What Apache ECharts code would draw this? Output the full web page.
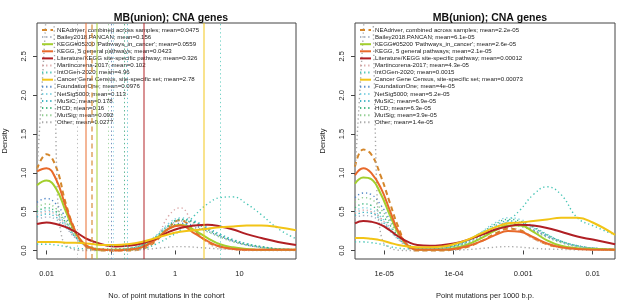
<!DOCTYPE html>
<html>
<head>
<meta charset="utf-8">
<script src="https://cdn.jsdelivr.net/npm/echarts@6/dist/echarts.min.js"></script>
<style>
  html, body { margin: 0; padding: 0; background: #fff; }
  #chart { width: 617px; height: 305px; }
</style>
</head>
<body>
<div id="chart"></div>
<script>
// x positions (raw values, drawn on log axes)
const xL = [0.0071, 0.01, 0.014, 0.02, 0.028, 0.04, 0.056, 0.08, 0.12, 0.18, 0.3, 0.5, 0.8, 1.2, 2, 3.2, 5, 8, 13, 22, 40, 76]
const xR = [3.8e-6, 5e-6, 6.5e-6, 9e-6, 1.2e-5, 1.6e-5, 2.2e-5, 3e-5, 4.5e-5, 7e-5, 1e-4, 1.5e-4, 2.5e-4, 4e-4, 6e-4, 9e-4, 1.4e-3, 2.2e-3, 3.5e-3, 6e-3, 1e-2, 2.1e-2]

// gene set names + means (legend text)
const setNames = ['NEAdriver, combined across samples', 'Bailey2018.PANCAN', "KEGG#05200 'Pathways_in_cancer'", 'KEGG, 5 general pathways',
  'Literature/KEGG site-specific pathway', 'Martincorena-2017', 'IntOGen-2020', 'Cancer Gene Census, site-specific set',
  'FoundationOne', 'NetSig5000', 'MuSiC', 'HCD', 'MutSig', 'Other']
const meanL = ['0.0475', '0.156', '0.0559', '0.0423', '0.326', '0.102', '4.96', '2.78', '0.0976', '0.113', '0.178', '0.16', '0.092', '0.0277']
const meanR = ['2.2e-05', '6.1e-05', '2.6e-05', '2.1e-05', '0.00012', '4.3e-05', '0.0015', '0.00073', '4e-05', '5.2e-05', '6.9e-05', '6.3e-05', '3.9e-05', '1.4e-05']

// densities, left panel
const neadriverL = [1.05, 1.24, 1.08, 0.60, 0.26, 0.06, 0.01, 0.0, 0.0, 0.0, 0.02, 0.12, 0.30, 0.39, 0.25, 0.11, 0.05, 0.02, 0.01, 0.01, 0.01, 0.01]
const baileyL = [0.40, 0.43, 0.40, 0.29, 0.16, 0.06, 0.02, 0.01, 0.01, 0.02, 0.06, 0.16, 0.31, 0.38, 0.35, 0.27, 0.19, 0.12, 0.07, 0.04, 0.02, 0.01]
const kegg05200L = [0.84, 0.90, 0.80, 0.50, 0.23, 0.07, 0.02, 0.01, 0.01, 0.01, 0.04, 0.15, 0.28, 0.33, 0.26, 0.16, 0.08, 0.04, 0.02, 0.01, 0.01, 0.01]
const kegg5L = [1.02, 1.06, 0.92, 0.56, 0.25, 0.07, 0.02, 0.01, 0.0, 0.01, 0.04, 0.14, 0.28, 0.32, 0.22, 0.12, 0.05, 0.02, 0.01, 0.01, 0.01, 0.01]
const literatureL = [0.34, 0.36, 0.34, 0.30, 0.24, 0.16, 0.11, 0.07, 0.05, 0.06, 0.09, 0.15, 0.24, 0.29, 0.32, 0.33, 0.31, 0.27, 0.21, 0.16, 0.11, 0.07]
const martincorenaL = [0.46, 0.50, 0.46, 0.33, 0.17, 0.06, 0.02, 0.01, 0.0, 0.0, 0.02, 0.15, 0.45, 0.55, 0.30, 0.10, 0.03, 0.01, 0.0, 0.0, 0.0, 0.0]
const intogenL = [0.08, 0.08, 0.07, 0.05, 0.03, 0.02, 0.01, 0.01, 0.01, 0.01, 0.02, 0.08, 0.17, 0.26, 0.45, 0.60, 0.68, 0.69, 0.60, 0.46, 0.28, 0.15]
const cgcL = [0.11, 0.11, 0.11, 0.10, 0.10, 0.09, 0.08, 0.07, 0.07, 0.08, 0.11, 0.16, 0.21, 0.24, 0.26, 0.28, 0.30, 0.31, 0.32, 0.32, 0.30, 0.26]
const foundationL = [0.62, 0.67, 0.60, 0.42, 0.22, 0.08, 0.03, 0.02, 0.02, 0.03, 0.06, 0.15, 0.28, 0.35, 0.32, 0.25, 0.18, 0.12, 0.07, 0.04, 0.02, 0.01]
const netsigL = [0.47, 0.52, 0.47, 0.34, 0.18, 0.07, 0.02, 0.01, 0.01, 0.02, 0.07, 0.19, 0.35, 0.42, 0.38, 0.29, 0.20, 0.13, 0.08, 0.04, 0.02, 0.01]
const musicL = [0.43, 0.47, 0.43, 0.31, 0.17, 0.06, 0.02, 0.01, 0.01, 0.02, 0.07, 0.18, 0.33, 0.40, 0.37, 0.29, 0.21, 0.14, 0.09, 0.05, 0.02, 0.01]
const hcdL = [0.50, 0.55, 0.50, 0.36, 0.19, 0.07, 0.02, 0.01, 0.01, 0.02, 0.06, 0.17, 0.32, 0.40, 0.36, 0.27, 0.19, 0.13, 0.08, 0.05, 0.02, 0.01]
const mutsigL = [0.56, 0.60, 0.54, 0.38, 0.20, 0.07, 0.03, 0.02, 0.02, 0.03, 0.07, 0.16, 0.28, 0.33, 0.30, 0.24, 0.17, 0.11, 0.07, 0.04, 0.02, 0.01]
const otherXL = [0.0071, 0.0095, 0.0115, 0.0125, 0.0135, 0.015, 0.018, 0.025, 0.04, 0.1, 0.3, 1.2, 5, 76]
const otherL = [1.0, 2.8, 4.0, 3.8, 2.2, 0.6, 0.12, 0.02, 0.0, 0.0, 0.01, 0.05, 0.02, 0.0]

// densities, right panel
const neadriverR = [1.08, 1.30, 1.24, 0.95, 0.62, 0.30, 0.05, 0.0, 0.0, 0.0, 0.01, 0.04, 0.12, 0.22, 0.28, 0.26, 0.16, 0.08, 0.04, 0.02, 0.02, 0.01]
const baileyR = [0.42, 0.45, 0.44, 0.36, 0.25, 0.14, 0.05, 0.02, 0.02, 0.03, 0.05, 0.11, 0.21, 0.30, 0.36, 0.34, 0.27, 0.18, 0.11, 0.05, 0.03, 0.01]
const kegg05200R = [0.86, 0.94, 0.92, 0.72, 0.46, 0.22, 0.06, 0.01, 0.01, 0.01, 0.03, 0.07, 0.16, 0.26, 0.32, 0.32, 0.24, 0.13, 0.06, 0.03, 0.02, 0.01]
const kegg5R = [0.97, 1.06, 1.00, 0.80, 0.52, 0.24, 0.06, 0.01, 0.01, 0.01, 0.02, 0.05, 0.12, 0.20, 0.25, 0.24, 0.17, 0.09, 0.04, 0.02, 0.01, 0.01]
const literatureR = [0.35, 0.38, 0.37, 0.33, 0.26, 0.18, 0.11, 0.07, 0.06, 0.07, 0.09, 0.13, 0.20, 0.27, 0.31, 0.33, 0.32, 0.29, 0.24, 0.18, 0.14, 0.08]
const martincorenaR = [0.48, 0.52, 0.50, 0.41, 0.28, 0.15, 0.05, 0.02, 0.01, 0.01, 0.03, 0.07, 0.17, 0.27, 0.30, 0.25, 0.15, 0.08, 0.04, 0.02, 0.01, 0.0]
const intogenR = [0.11, 0.11, 0.10, 0.08, 0.05, 0.03, 0.02, 0.02, 0.02, 0.03, 0.05, 0.09, 0.17, 0.28, 0.38, 0.52, 0.72, 0.82, 0.72, 0.42, 0.32, 0.20]
const cgcR = [0.16, 0.16, 0.15, 0.13, 0.10, 0.07, 0.05, 0.04, 0.04, 0.05, 0.08, 0.13, 0.22, 0.30, 0.35, 0.36, 0.38, 0.40, 0.42, 0.42, 0.36, 0.20]
const foundationR = [0.68, 0.74, 0.72, 0.58, 0.40, 0.22, 0.08, 0.03, 0.02, 0.03, 0.05, 0.10, 0.20, 0.30, 0.35, 0.33, 0.26, 0.18, 0.11, 0.06, 0.03, 0.01]
const netsigR = [0.50, 0.55, 0.53, 0.43, 0.30, 0.16, 0.06, 0.02, 0.02, 0.03, 0.06, 0.12, 0.24, 0.36, 0.42, 0.40, 0.31, 0.21, 0.12, 0.06, 0.03, 0.01]
const musicR = [0.45, 0.49, 0.48, 0.39, 0.27, 0.15, 0.06, 0.02, 0.02, 0.03, 0.06, 0.12, 0.22, 0.32, 0.38, 0.36, 0.29, 0.20, 0.12, 0.06, 0.03, 0.01]
const hcdR = [0.55, 0.60, 0.58, 0.47, 0.33, 0.18, 0.07, 0.03, 0.02, 0.03, 0.06, 0.12, 0.23, 0.34, 0.40, 0.38, 0.30, 0.20, 0.12, 0.06, 0.03, 0.01]
const mutsigR = [0.62, 0.68, 0.66, 0.53, 0.37, 0.20, 0.07, 0.03, 0.02, 0.03, 0.05, 0.10, 0.19, 0.28, 0.33, 0.31, 0.25, 0.17, 0.10, 0.05, 0.03, 0.01]
const otherXR = [3.8e-6, 5e-6, 6e-6, 6.6e-6, 7.2e-6, 8e-6, 9.5e-6, 1.3e-5, 2e-5, 5e-5, 1.5e-4, 6e-4, 2e-3, 0.021]
const otherR = [1.0, 2.8, 4.0, 3.8, 2.2, 0.6, 0.12, 0.02, 0.0, 0.0, 0.01, 0.05, 0.02, 0.0]

// tick labels
const ticksL = [0.01, 0.1, 1, 10]
const tickTextL = ['0.01', '0.1', '1', '10']
const ticksR = [1e-5, 1e-4, 1e-3, 1e-2]
const tickTextR = ['1e-05', '1e-04', '0.001', '0.01']
const ticksY = [0, 0.5, 1, 1.5, 2, 2.5]

// line look per set
const colors = ['#D4862A', '#A9B4C6', '#A3CF2E', '#E8692A', '#B01F24', '#D9A6A6', '#45C4B4',
  '#F2C416', '#4F86C6', '#7CD0E0', '#3FB4C4', '#3DB57E', '#8CCB8C', '#A8A8A8']
const lineTypes = ['dashed', 'dotted', 'solid', 'solid', 'solid', 'dotted', 'dotted',
  'solid', 'dotted', 'dotted', 'dotted', 'dotted', 'dotted', 'dotted']

const seriesL = [neadriverL, baileyL, kegg05200L, kegg5L, literatureL, martincorenaL, intogenL,
  cgcL, foundationL, netsigL, musicL, hcdL, mutsigL, otherL]
const seriesR = [neadriverR, baileyR, kegg05200R, kegg5R, literatureR, martincorenaR, intogenR,
  cgcR, foundationR, netsigR, musicR, hcdR, mutsigR, otherR]

const FONT = 'Liberation Sans, Arial, Helvetica, sans-serif'

function dashOf (t) {
  if (t === 'dashed') return [5, 3.5]
  if (t === 'dotted') return [1.3, 2.8]
  return 'solid'
}

function buildSeries (panel) {
  const xs = panel === 0 ? xL : xR
  const ys = panel === 0 ? seriesL : seriesR
  const means = panel === 0 ? meanL : meanR
  const out = []
  ys.forEach((vals, i) => {
    const isOther = i === ys.length - 1
    const px = isOther ? (panel === 0 ? otherXL : otherXR) : xs
    const solid = lineTypes[i] === 'solid'
    const w = solid ? 2 : (lineTypes[i] === 'dashed' ? 2 : 1.4)
    out.push({
      name: setNames[i] + '; mean=' + means[i],
      type: 'line',
      xAxisIndex: panel,
      yAxisIndex: panel,
      smooth: isOther ? 0.3 : 0.45,
      symbol: 'none',
      data: vals.map((v, k) => [px[k], v]),
      lineStyle: { color: colors[i], width: w, type: dashOf(lineTypes[i]) },
      itemStyle: { color: colors[i] },
      z: solid ? 3 : 2,
      markLine: {
        silent: true,
        symbol: ['none', 'none'],
        label: { show: false },
        emphasis: { disabled: true },
        animation: false,
        lineStyle: {
          color: colors[i],
          width: solid || lineTypes[i] === 'dashed' ? 1.5 : 1,
          type: dashOf(lineTypes[i]),
          opacity: solid ? 0.65 : 0.75
        },
        data: [{ xAxis: Number(means[i]) }]
      }
    })
  })
  return out
}

function xAxisOf (panel) {
  const ticks = panel === 0 ? ticksL : ticksR
  const texts = panel === 0 ? tickTextL : tickTextR
  return {
    type: 'log',
    logBase: 10,
    gridIndex: panel,
    min: panel === 0 ? 0.0071 : 3.8e-6,
    max: panel === 0 ? 76 : 0.0209,
    name: panel === 0 ? 'No. of point mutations in the cohort' : 'Point mutations per 1000 b.p.',
    nameLocation: 'middle',
    nameGap: 33,
    nameTextStyle: { fontFamily: FONT, fontSize: 7.5, color: '#222' },
    axisLine: { show: false },
    splitLine: { show: false },
    minorTick: { show: false },
    axisTick: { show: true, length: 4, customValues: ticks, lineStyle: { color: '#444' } },
    axisLabel: {
      customValues: ticks,
      margin: 11,
      fontFamily: FONT,
      fontSize: 7.5,
      color: '#222',
      formatter: v => texts[ticks.findIndex(t => Math.abs(Math.log10(t) - Math.log10(v)) < 1e-6)]
    }
  }
}

function yAxisOf (panel) {
  return {
    type: 'value',
    gridIndex: panel,
    min: -0.11,
    max: 2.93,
    name: 'Density',
    nameLocation: 'middle',
    nameRotate: 90,
    nameGap: 28,
    nameTextStyle: { fontFamily: FONT, fontSize: 7.5, color: '#222' },
    axisLine: { show: false },
    splitLine: { show: false },
    axisTick: { show: true, length: 4, customValues: ticksY, lineStyle: { color: '#444' } },
    axisLabel: {
      customValues: ticksY,
      rotate: 90,
      margin: 9,
      fontFamily: FONT,
      fontSize: 7.5,
      color: '#222',
      formatter: v => v.toFixed(1)
    }
  }
}

function legendOf (panel, left) {
  const means = panel === 0 ? meanL : meanR
  return {
    orient: 'vertical',
    left: left,
    top: 26.5,
    itemWidth: 11,
    itemHeight: 7,
    itemGap: 0.1,
    padding: 0,
    selectedMode: false,
    itemStyle: { opacity: 0 },
    data: setNames.map((n, i) => n + '; mean=' + means[i]),
    textStyle: { fontFamily: FONT, fontSize: 6.1, color: '#222', lineHeight: 7, padding: [0, 0, 0, -1] }
  }
}

const chart = echarts.init(document.getElementById('chart'), null, { renderer: 'canvas' })
chart.setOption({
  animation: false,
  backgroundColor: '#fff',
  title: [
    { text: 'MB(union); CNA genes', left: 166, top: 8, textAlign: 'center',
      textStyle: { fontFamily: FONT, fontSize: 10.5, fontWeight: 'bold', color: '#111' } },
    { text: 'MB(union); CNA genes', left: 485, top: 8, textAlign: 'center',
      textStyle: { fontFamily: FONT, fontSize: 10.5, fontWeight: 'bold', color: '#111' } }
  ],
  legend: [legendOf(0, 41), legendOf(1, 359)],
  grid: [
    { left: 37, top: 23, width: 259, height: 243, show: true, borderColor: '#444', borderWidth: 1, backgroundColor: 'transparent' },
    { left: 355, top: 23, width: 260, height: 243, show: true, borderColor: '#444', borderWidth: 1, backgroundColor: 'transparent' }
  ],
  xAxis: [xAxisOf(0), xAxisOf(1)],
  yAxis: [yAxisOf(0), yAxisOf(1)],
  series: buildSeries(0).concat(buildSeries(1))
})
window.addEventListener('resize', () => {
  chart.resize()
})
</script>
</body>
</html>
